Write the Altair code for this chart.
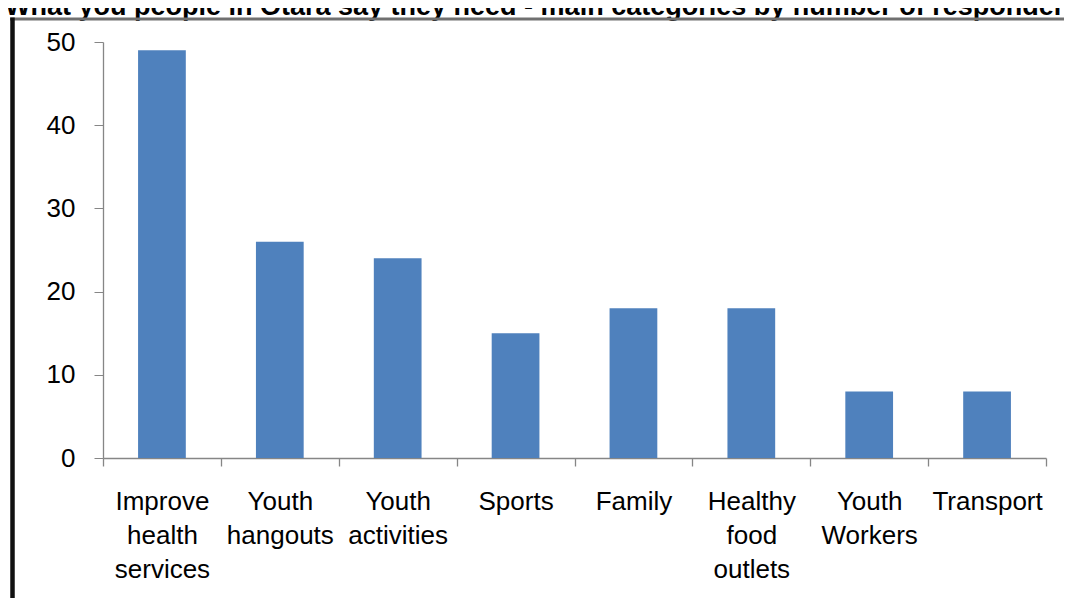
import altair as alt
import pandas as pd

categories = ["Improve health services", "Youth hangouts", "Youth activities", "Sports",
              "Family", "Healthy food outlets", "Youth Workers", "Transport"]
respondents = [49, 26, 24, 15, 18, 18, 8, 8]
y_ticks = [0, 10, 20, 30, 40, 50]
title_text = "What you people in Otara say they need - main categories by number of respondents"

df = pd.DataFrame({"category": categories, "respondents": respondents})
one = pd.DataFrame({"k": [0]})

W, H = 943, 416
PL, PT = 95, 34

bars = alt.Chart(df).mark_bar(color="#4F81BD", width=alt.RelativeBandSize(0.405)).encode(
    x=alt.X("category:N", sort=categories,
            scale=alt.Scale(paddingInner=0, paddingOuter=0),
            axis=alt.Axis(title=None, labelAngle=0, labelExpr="split(datum.label, ' ')",
                          tickBand="extent", tickSize=8, labelPadding=22,
                          labelLineHeight=34, labelFontSize=26, labelOverlap=False,
                          labelBaseline="top", domainWidth=1.5, tickWidth=1.3)),
    y=alt.Y("respondents:Q", scale=alt.Scale(domain=[0, 50], nice=False),
            axis=alt.Axis(title=None, values=y_ticks, grid=False, tickSize=9,
                          labelPadding=19, labelFontSize=26, domainWidth=1.3)),
)

title = alt.Chart(one).mark_text(align="left", baseline="alphabetic", fontSize=27,
                                 fontWeight="bold", font="Liberation Sans", color="black").encode(
    x=alt.value(-98), y=alt.value(-27), text=alt.value(title_text))

top_border = alt.Chart(one).mark_rule(color="#707070", strokeWidth=3).encode(
    x=alt.value(-93), x2=alt.value(975), y=alt.value(-23))
left_border = alt.Chart(one).mark_rule(color="#111111", strokeWidth=4.5).encode(
    x=alt.value(-90.5), y=alt.value(-24.5), y2=alt.value(575))

chart = alt.layer(bars, title, top_border, left_border).properties(
    width=W, height=H,
    autosize=alt.AutoSizeParams(type="none"),
    padding={"left": PL, "top": PT, "right": 1056 - PL - W, "bottom": 140},
).configure_view(stroke=None).configure_axis(
    domainColor="#868686", tickColor="#868686", labelColor="black",
    labelFont="Liberation Sans",
)

chart.save("out.html", embed_options={"renderer": "svg", "actions": False})
